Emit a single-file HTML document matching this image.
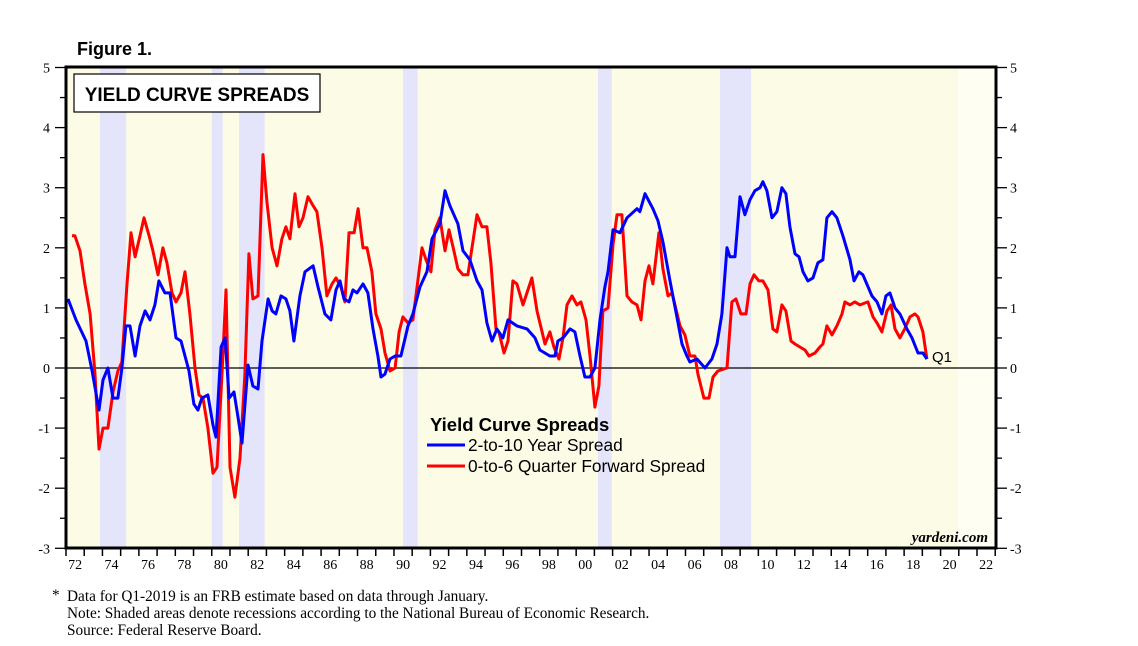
<!DOCTYPE html>
<html><head><meta charset="utf-8">
<style>
body{margin:0;background:#fff;width:1138px;height:646px;overflow:hidden;font-family:"Liberation Sans",sans-serif}
svg{position:absolute;left:0;top:0}
</style></head>
<body>
<svg id="chart" width="1138" height="646" viewBox="0 0 1138 646">
<text x="77" y="55" font-family="Liberation Sans" font-weight="bold" font-size="18">Figure 1.</text>
<rect x="66" y="67" width="930" height="481" fill="#fcfbe6"/>
<rect x="958" y="67" width="38" height="481" fill="#fefef2"/>
<g id="rec"></g>
<g id="ticks"></g>
<line x1="66" x2="996" y1="368" y2="368" stroke="#000" stroke-width="1.2"/>
<g id="series"></g>
<rect x="66" y="67" width="930" height="481" fill="none" stroke="#000" stroke-width="3"/>
<rect x="74" y="74" width="246" height="38" fill="#fff" stroke="#000" stroke-width="1.2"/>
<text x="197" y="101" text-anchor="middle" font-family="Liberation Sans" font-weight="bold" font-size="19">YIELD CURVE SPREADS</text>
<text x="932" y="362" font-family="Liberation Sans" font-size="15">Q1</text>
<g>
<text x="430" y="431" font-family="Liberation Sans" font-weight="bold" font-size="18.5">Yield Curve Spreads</text>
<line x1="427" x2="465" y1="445" y2="445" stroke="#0000ff" stroke-width="3"/>
<text x="468" y="451" font-family="Liberation Sans" font-size="17.3">2-to-10 Year Spread</text>
<line x1="427" x2="465" y1="466" y2="466" stroke="#ff0000" stroke-width="3"/>
<text x="468" y="472" font-family="Liberation Sans" font-size="17.3">0-to-6 Quarter Forward Spread</text>
</g>
<text x="988" y="542" text-anchor="end" font-family="Liberation Serif" font-style="italic" font-weight="bold" font-size="15">yardeni.com</text>
<g font-family="Liberation Serif" font-size="15.3">
<text x="52" y="600">*</text>
<text x="67" y="601">Data for Q1-2019 is an FRB estimate based on data through January.</text>
<text x="67" y="618">Note: Shaded areas denote recessions according to the National Bureau of Economic Research.</text>
<text x="67" y="635">Source: Federal Reserve Board.</text>
</g>
</svg>
<script>
const recessionStart=[1973.87,1980.0,1981.5,1990.5,2001.2,2007.9];
const recessionEnd=[1975.3,1980.6,1982.9,1991.3,2001.95,2009.6];
const yTicks=[-3,-2,-1,0,1,2,3,4,5];
const xLabels=["72","74","76","78","80","82","84","86","88","90","92","94","96","98","00","02","04","06","08","10","12","14","16","18","20","22"];
const baseYear=1972;
const blueT=[0.11,0.55,1.10,1.43,1.81,2.03,2.30,2.58,2.85,3.07,3.29,3.51,3.79,4.06,4.34,4.61,4.88,5.10,5.43,5.71,6.04,6.31,6.75,7.02,7.24,7.46,7.79,8.07,8.23,8.51,8.73,8.95,9.22,9.38,9.66,9.99,10.26,10.54,10.76,11.09,11.31,11.52,11.80,12.07,12.29,12.51,12.84,13.12,13.56,13.83,14.21,14.54,14.82,15.04,15.26,15.53,15.75,15.97,16.30,16.57,16.85,17.12,17.29,17.51,17.78,18.06,18.38,18.77,19.04,19.43,19.81,20.09,20.52,20.80,21.07,21.51,21.79,22.17,22.56,22.83,23.10,23.38,23.65,23.98,24.26,24.75,25.30,25.74,26.01,26.56,26.84,27.00,27.28,27.66,27.93,28.21,28.48,28.76,29.03,29.31,29.58,29.75,30.02,30.40,30.79,31.34,31.50,31.78,32.21,32.49,32.76,33.15,33.53,33.81,34.08,34.24,34.63,35.07,35.45,35.73,36.00,36.28,36.44,36.72,36.99,37.26,37.54,37.81,38.09,38.25,38.47,38.75,39.02,39.29,39.51,39.73,40.01,40.23,40.45,40.72,41.00,41.27,41.54,41.76,42.04,42.31,42.64,43.03,43.25,43.52,43.74,44.23,44.51,44.78,45.00,45.22,45.50,45.77,46.15,46.43,46.76,47.03,47.25];
const blueV=[1.15,0.8,0.45,-0.05,-0.7,-0.2,0,-0.5,-0.5,0,0.7,0.7,0.2,0.7,0.95,0.8,1.05,1.45,1.25,1.25,0.5,0.45,-0.05,-0.6,-0.7,-0.5,-0.45,-0.95,-1.15,0.35,0.5,-0.5,-0.4,-0.7,-1.25,0.05,-0.3,-0.35,0.45,1.15,0.95,0.9,1.2,1.15,0.95,0.45,1.2,1.6,1.7,1.35,0.9,0.8,1.3,1.45,1.15,1.1,1.3,1.25,1.4,1.25,0.65,0.2,-0.15,-0.1,0.15,0.2,0.2,0.7,0.9,1.35,1.6,2.15,2.4,2.95,2.7,2.4,1.95,1.8,1.45,1.3,0.75,0.45,0.65,0.5,0.8,0.7,0.65,0.5,0.3,0.2,0.2,0.45,0.5,0.65,0.6,0.2,-0.15,-0.15,0,0.8,1.35,1.6,2.3,2.25,2.5,2.65,2.6,2.9,2.65,2.45,2.1,1.45,0.85,0.4,0.2,0.1,0.15,0,0.15,0.4,0.9,2.0,1.85,1.85,2.85,2.55,2.8,2.95,3.0,3.1,2.95,2.5,2.6,3.0,2.9,2.35,1.9,1.85,1.6,1.45,1.5,1.75,1.8,2.5,2.6,2.5,2.2,1.8,1.45,1.6,1.55,1.2,1.1,0.9,1.2,1.25,1.0,0.9,0.65,0.5,0.25,0.25,0.15];
const redT=[0.33,0.49,0.77,1.04,1.32,1.59,1.81,2.03,2.30,2.58,2.85,3.07,3.35,3.57,3.79,4.06,4.28,4.56,4.77,5.05,5.32,5.54,5.82,6.04,6.31,6.53,6.80,7.08,7.30,7.52,7.79,8.07,8.29,8.56,8.78,9.00,9.27,9.55,9.82,10.04,10.26,10.54,10.81,11.03,11.31,11.58,11.85,12.07,12.29,12.57,12.79,13.01,13.28,13.56,13.77,14.05,14.32,14.60,14.82,15.09,15.31,15.53,15.81,16.03,16.30,16.52,16.79,17.01,17.29,17.51,17.78,18.06,18.28,18.49,18.77,19.04,19.54,19.76,20.03,20.25,20.52,20.80,21.02,21.29,21.51,21.79,22.06,22.56,22.83,23.10,23.32,23.60,23.76,24.04,24.26,24.53,24.75,25.08,25.57,25.85,26.29,26.56,26.78,27.06,27.28,27.50,27.77,28.04,28.26,28.54,28.76,29.03,29.25,29.47,29.75,30.02,30.24,30.51,30.79,31.06,31.34,31.56,31.78,32.00,32.21,32.54,32.76,33.04,33.26,33.70,33.97,34.24,34.52,34.68,35.01,35.29,35.51,35.78,36.28,36.55,36.77,37.04,37.32,37.54,37.76,38.03,38.25,38.53,38.80,39.02,39.29,39.51,39.79,40.01,40.28,40.56,40.78,41.11,41.38,41.54,41.76,42.04,42.31,42.59,42.75,43.03,43.30,43.58,44.01,44.29,44.51,44.78,45.06,45.28,45.50,45.77,46.04,46.32,46.59,46.76,47.03,47.25];
const redV=[2.2,2.2,1.95,1.4,0.9,-0.1,-1.35,-1.0,-1.0,-0.4,-0.05,0.1,1.4,2.25,1.85,2.2,2.5,2.2,1.95,1.55,2.0,1.75,1.25,1.1,1.25,1.6,0.9,0,-0.45,-0.5,-1.0,-1.75,-1.65,-0.1,1.3,-1.65,-2.15,-1.5,-0.1,1.9,1.15,1.2,3.55,2.75,2.0,1.7,2.15,2.35,2.15,2.9,2.35,2.5,2.85,2.7,2.6,2.0,1.2,1.4,1.5,1.35,1.1,2.25,2.25,2.65,2.0,2.0,1.6,0.9,0.65,0.25,-0.05,0,0.6,0.85,0.75,0.8,2.0,1.8,1.6,2.3,2.5,1.95,2.3,1.95,1.65,1.55,1.55,2.55,2.35,2.35,1.75,0.65,0.6,0.25,0.45,1.45,1.4,1.05,1.5,0.95,0.4,0.6,0.35,0.15,0.5,1.05,1.2,1.05,1.1,0.8,0.2,-0.65,-0.3,0.95,1.0,2.05,2.55,2.55,1.2,1.1,1.05,0.8,1.45,1.7,1.4,2.25,1.65,1.2,1.25,0.7,0.55,0.2,0.2,-0.1,-0.5,-0.5,-0.15,-0.05,0,1.1,1.15,0.9,0.9,1.4,1.55,1.45,1.45,1.3,0.65,0.6,1.05,0.95,0.45,0.4,0.35,0.3,0.2,0.25,0.35,0.4,0.7,0.55,0.7,0.9,1.1,1.05,1.1,1.05,1.1,0.85,0.75,0.6,0.95,1.05,0.65,0.5,0.65,0.85,0.9,0.85,0.6,0.15];

const NS="http://www.w3.org/2000/svg";
const X0=66,PXY=18.22,Y0=368,PXU=60.1;
function xs(yr){return X0+(yr-1972)*PXY;}
function ys(v){return Y0-v*PXU;}
function mk(tag,attrs,parent){const e=document.createElementNS(NS,tag);for(const k in attrs)e.setAttribute(k,attrs[k]);parent.appendChild(e);return e;}

const rec=document.getElementById('rec');
for(let i=0;i<recessionStart.length;i++){
  const r=mk('rect',{x:xs(recessionStart[i]),y:67,width:xs(recessionEnd[i])-xs(recessionStart[i]),height:481,fill:'#e4e4fb'},rec);
  
  
}
const tk=document.getElementById('ticks');
const svg=document.getElementById('chart');
yTicks.forEach(v=>{
  const y=ys(v);
  mk('line',{x1:55,x2:66,y1:y,y2:y,stroke:'#000','stroke-width':1.3},tk);
  mk('line',{x1:996,x2:1007,y1:y,y2:y,stroke:'#000','stroke-width':1.3},tk);
  if(v<5){const y2=ys(v+0.5);
    mk('line',{x1:60,x2:66,y1:y2,y2:y2,stroke:'#000','stroke-width':1.3},tk);
    mk('line',{x1:996,x2:1002,y1:y2,y2:y2,stroke:'#000','stroke-width':1.3},tk);}
  const t1=mk('text',{x:50,y:y+5,'text-anchor':'end','font-family':'Liberation Serif','font-size':14},svg);
  t1.textContent=String(v);
  
  
  const t2=mk('text',{x:1010,y:y+5,'font-family':'Liberation Serif','font-size':14},svg);
  t2.textContent=String(v);
  
  
});
for(let yr=1972;yr<=2023;yr++){
  mk('line',{x1:xs(yr),x2:xs(yr),y1:548,y2:556,stroke:'#000','stroke-width':1.5},tk);
}
xLabels.forEach((lab,i)=>{
  const t=mk('text',{x:xs(1972+2*i+0.5),y:569,'text-anchor':'middle','font-family':'Liberation Serif','font-size':14},svg);
  t.textContent=lab;
  
  
});
const ser=document.getElementById('series');
function line(T,V,color,name){
  const d=T.map((t,i)=>(i?'L':'M')+xs(baseYear+t).toFixed(1)+' '+ys(V[i]).toFixed(1)).join(' ');
  const p=mk('path',{d:d,fill:'none',stroke:color,'stroke-width':3,'stroke-linejoin':'round'},ser);
  
  
}
line(redT,redV,'#ff0000','series-0to6-forward-spread');
line(blueT,blueV,'#0000ff','series-2to10-spread');
</script>
</body></html>
